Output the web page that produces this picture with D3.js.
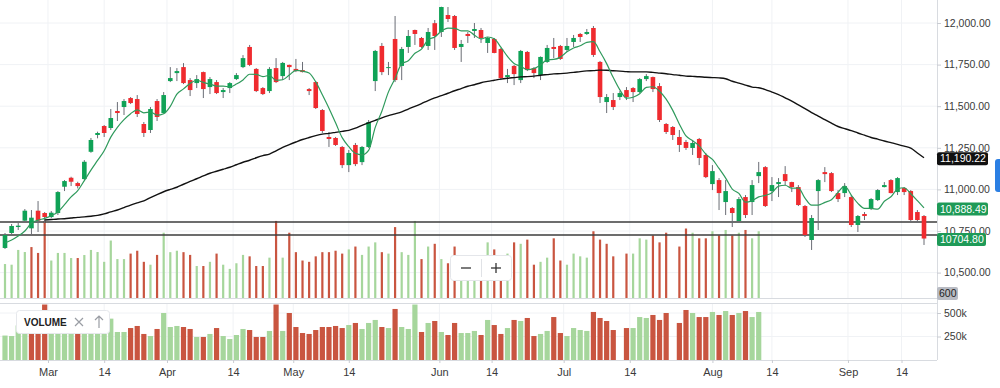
<!DOCTYPE html>
<meta charset="utf-8">
<style>
body { margin: 0; background: #fff; }
svg { display: block; font-family: "Liberation Sans", Arial, sans-serif; }
.axis text { fill: #3a3a3a; font-size: 10.5px; }
.axis line { stroke: #c9ccd2; }
</style>
<body>
<script src="https://d3js.org/d3.v7.min.js"></script>
<script>
// daily sessions, oldest first
var opens = [10648,10738,10774,10812,10766,10872,10858,10834,10858,11016,11070,11038,11062,11226,11327,11381,11369,11471,11495,11549,
  11543,11393,11357,11531,11459,11651,11699,11735,11657,11639,11705,11615,11645,11585,11609,11663,11735,11856,11724,11609,
  11591,11729,11681,11748,11724,11717,11603,11645,11477,11315,11309,11255,11146,11267,11164,11255,11651,11862,11729,11904,
  11742,11856,11958,11910,11862,11999,11946,12048,12042,11856,11934,11952,11958,11880,11904,11844,11675,11742,11657,11826,
  11729,11687,11766,11856,11862,11838,11886,11934,11934,11970,11766,11525,11537,11555,11597,11609,11585,11663,11675,11621,
  11393,11375,11315,11285,11249,11303,11207,11032,11056,10924,10888,10810,10954,10924,11080,11134,10990,11032,11092,11044,
  11014,10900,10696,10990,11104,11098,10978,10978,10954,10786,10852,10882,10936,11014,11056,10984,11008,10990,10864,10840];
var highs = [10738,10792,10798,10882,10876,10930,10864,10870,10990,11056,11076,11046,11176,11309,11347,11387,11483,11525,11543,11555,
  11567,11405,11495,11543,11585,11735,11729,11759,11669,11687,11708,11675,11657,11609,11645,11699,11807,11868,11729,11615,
  11735,11789,11766,11750,11784,11766,11609,11651,11483,11345,11315,11261,11237,11279,11261,11417,11838,11880,11766,12042,
  11856,11958,11960,11916,11970,12018,12098,12096,12048,11898,11946,12000,11970,11916,11910,11850,11724,11748,11838,11832,
  11735,11799,11868,11910,11868,11910,11928,11940,11964,11982,11772,11573,11579,11591,11615,11615,11669,11693,11678,11639,
  11399,11381,11357,11297,11297,11309,11219,11146,11068,11056,10894,10954,10966,11056,11165,11140,11074,11068,11140,11046,
  11026,10906,10846,11062,11134,11104,10996,11038,10966,10846,10864,10948,11002,11044,11062,11074,11014,10996,10876,10846];
var lows = [10642,10720,10756,10804,10726,10744,10798,10828,10846,10990,11020,11006,11056,11220,11307,11315,11357,11411,11447,11513,
  11435,11315,11339,11411,11457,11645,11651,11633,11561,11609,11549,11573,11573,11549,11579,11657,11729,11741,11585,11567,
  11579,11639,11657,11657,11705,11703,11567,11483,11339,11255,11261,11128,11104,11140,11146,11249,11591,11687,11687,11645,
  11657,11820,11868,11850,11838,11838,11916,12006,11838,11766,11880,11910,11880,11820,11818,11657,11639,11627,11639,11711,
  11669,11657,11760,11789,11778,11826,11856,11886,11928,11796,11519,11459,11477,11537,11537,11525,11579,11651,11585,11405,
  11333,11297,11225,11237,11207,11146,11068,10996,10876,10846,10774,10804,10828,10846,11038,10894,10930,10954,11026,10984,
  10900,10714,10636,10756,11044,10984,10924,10954,10774,10744,10816,10876,10930,11012,10976,10966,10966,10804,10798,10666];
var closes = [10726,10780,10782,10872,10830,10812,10834,10860,10984,11050,11046,11020,11166,11297,11339,11339,11429,11459,11531,11519,
  11453,11339,11483,11435,11567,11669,11711,11639,11597,11663,11603,11663,11579,11597,11639,11687,11789,11748,11591,11573,
  11724,11645,11760,11735,11711,11705,11591,11489,11351,11303,11267,11146,11219,11152,11255,11405,11832,11705,11735,11657,
  11844,11922,11934,11856,11946,11922,12096,12024,11850,11874,11922,11964,11910,11910,11820,11669,11687,11693,11832,11717,
  11699,11796,11850,11844,11784,11862,11910,11916,11946,11808,11555,11555,11495,11579,11555,11585,11663,11681,11603,11417,
  11345,11327,11267,11249,11279,11189,11074,11110,10978,10990,10858,10942,10846,11026,11104,10900,11026,11044,11050,11014,
  10906,10726,10828,11056,11092,10990,10942,11020,10786,10840,10840,10942,10996,11026,10978,11068,10984,10816,10816,10704.80];

// volume in thousands (null = no print), and its colour flag (1 = up)
var volumes = [260,255,368,352,390,345,590,287,345,345,306,306,329,368,352,277,440,298,298,340,
  362,277,255,330,500,351,362,351,330,245,245,277,340,255,223,266,330,319,245,245,
  309,590,309,500,351,287,277,319,351,351,362,340,372,394,330,394,426,351,340,543,
  351,330,590,298,394,415,298,266,394,287,287,309,266,426,372,277,340,426,415,447,
  255,277,309,457,287,255,340,319,309,511,447,415,319,null,340,340,457,447,479,426,
  500,null,394,532,500,457,457,511,479,521,479,500,521,457,511];
var volUp = [1,1,1,1,0,0,0,1,1,1,1,0,1,1,1,1,1,1,1,0,
  0,0,1,0,1,1,1,0,0,1,0,1,0,1,1,1,1,0,0,0,
  1,0,1,0,0,0,0,0,0,0,0,0,1,0,1,1,1,0,1,0,
  1,1,1,0,1,0,1,0,0,1,1,1,0,1,0,0,1,0,1,0,
  0,1,1,0,0,1,1,1,1,0,0,0,0,0,0,1,1,1,0,0,
  0,0,0,0,1,0,0,1,0,1,0,1,0,1,1];

// moving averages as plotted (fast = 5 session, slow = long)
var smaFast = [10678,10696,10720,10750,10798,10815,10826,10842,10864,10908,10955,10992,11053,11116,11174,11232,11314,11373,11419,11455,
  11478,11460,11465,11446,11455,11499,11573,11604,11637,11656,11643,11633,11621,11621,11616,11633,11658,11692,11691,11678,
  11685,11656,11659,11687,11715,11711,11700,11646,11569,11488,11400,11311,11257,11217,11208,11235,11373,11470,11586,11667,
  11755,11773,11818,11843,11900,11916,11951,11969,11968,11953,11953,11927,11904,11916,11905,11855,11799,11756,11740,11720,
  11726,11747,11779,11781,11795,11827,11850,11863,11884,11888,11827,11756,11672,11598,11548,11554,11575,11613,11617,11590,
  11542,11475,11392,11321,11293,11262,11212,11180,11126,11068,11002,10976,10923,10932,10955,10964,10980,11020,11025,11007,
  11008,10948,10905,10906,10922,10938,10982,11020,10966,10916,10886,10886,10881,10929,10956,11002,11010,10974,10932,10888.49];
var smaSlow = [null,null,null,null,null,null,10816,10819,10822,10824,10828,10832,10835,10839,10844,10853,10865,10876,10891,10906,
  10919,10931,10951,10969,10986,11000,11013,11031,11048,11064,11081,11097,11109,11121,11133,11148,11163,11175,11190,11203,
  11212,11232,11252,11269,11285,11300,11312,11323,11332,11337,11343,11349,11355,11368,11385,11400,11415,11430,11443,11454,
  11466,11483,11499,11516,11534,11550,11564,11578,11593,11606,11620,11629,11641,11649,11656,11663,11668,11672,11676,11678,
  11681,11686,11690,11694,11696,11699,11703,11708,11712,11714,11717,11716,11713,11711,11708,11706,11706,11706,11703,11699,
  11695,11690,11686,11681,11679,11677,11674,11672,11670,11665,11650,11639,11627,11615,11611,11600,11585,11570,11550,11530,
  11508,11486,11461,11441,11419,11398,11378,11365,11353,11339,11326,11312,11302,11291,11281,11271,11260,11248,11219,11190.22];

var levels = [10804, 10726];
var priceTicks = [12000, 11750, 11500, 11250, 11000, 10750, 10500];
var volTicks = [500, 250];
// date ticks, in session units
var dateTicks = [6.5, 15, 24.5, 34.5, 43.6, 52, 65.7, 73.6, 84.5, 94.5, 107, 116, 127.5, 135.6];
var dateLabels = ["Mar", "14", "Apr", "14", "May", "14", "Jun", "14", "Jul", "14", "Aug", "14", "Sep", "14"];

var width = 1000, height = 388;
var plotRight = 937, mainBottom = 298, volTop = 303, volBottom = 360;
var upCol = "#0fa256", downCol = "#ef2b2f";
var volUpCol = "#a6d69c", volDownCol = "#c95540";

var svg = d3.select("body").append("svg")
    .attr("width", width)
    .attr("height", height);

var x = d3.scaleLinear().domain([0, closes.length - 1]).range([5, 924]);
var y = d3.scaleLinear().domain([10500, 12000]).range([272.6, 23]);
var yv = d3.scaleLinear().domain([0, 500]).range([volBottom, 313]);
var yThin = d3.scaleLinear().domain([0, 500]).range([mainBottom, 232.7]);

svg.append("clipPath").attr("id", "mainclip")
  .append("rect").attr("x", 0).attr("y", 0).attr("width", plotRight).attr("height", mainBottom);

// grid
var grid = svg.append("g").attr("stroke", "#f0f2f5").attr("stroke-width", 1);
dateTicks.forEach(function(d) {
  grid.append("line").attr("x1", x(d)).attr("x2", x(d)).attr("y1", 0).attr("y2", mainBottom);
  grid.append("line").attr("x1", x(d)).attr("x2", x(d)).attr("y1", volTop).attr("y2", volBottom);
});
priceTicks.forEach(function(d) {
  grid.append("line").attr("x1", 0).attr("x2", plotRight).attr("y1", y(d)).attr("y2", y(d));
});
volTicks.forEach(function(d) {
  grid.append("line").attr("x1", 0).attr("x2", plotRight).attr("y1", yv(d)).attr("y2", yv(d));
});

// panel frames
var frame = svg.append("g").attr("stroke", "#d8dbe0").attr("stroke-width", 1);
frame.append("line").attr("x1", plotRight + 0.5).attr("x2", plotRight + 0.5).attr("y1", 0).attr("y2", volBottom);
frame.append("line").attr("x1", 0).attr("x2", plotRight).attr("y1", mainBottom + 0.5).attr("y2", mainBottom + 0.5);
frame.append("line").attr("x1", 0).attr("x2", plotRight).attr("y1", volTop + 0.5).attr("y2", volTop + 0.5);
frame.append("line").attr("x1", 0).attr("x2", plotRight).attr("y1", volBottom + 0.5).attr("y2", volBottom + 0.5);

var main = svg.append("g").attr("clip-path", "url(#mainclip)");

// volume overlay in the price pane
main.selectAll(".thin")
    .data(volumes.map(function(v, i) { return {i: i, v: v, up: volUp[i]}; }).filter(function(d) { return d.v != null; }))
  .enter().append("rect")
    .attr("x", function(d) { return x(d.i) - 1.1; })
    .attr("width", 2.2)
    .attr("y", function(d) { return yThin(d.v); })
    .attr("height", function(d) { return mainBottom - yThin(d.v); })
    .attr("fill", function(d) { return d.up ? volUpCol : volDownCol; });

// level lines
main.selectAll(".level")
    .data(levels)
  .enter().append("line")
    .attr("x1", 0).attr("x2", plotRight)
    .attr("y1", function(d) { return y(d); })
    .attr("y2", function(d) { return y(d); })
    .attr("stroke", "#3d3d3d").attr("stroke-width", 1.5);

// candles
var bars = closes.map(function(c, i) {
  return {i: i, o: opens[i], h: highs[i], l: lows[i], c: c};
});
var candle = main.selectAll(".candle").data(bars).enter().append("g");
candle.append("line")
    .attr("x1", function(d) { return x(d.i); })
    .attr("x2", function(d) { return x(d.i); })
    .attr("y1", function(d) { return y(d.h); })
    .attr("y2", function(d) { return y(d.l); })
    .attr("stroke", "#6a6d75").attr("stroke-width", 1);
candle.append("rect")
    .attr("x", function(d) { return x(d.i) - 2.3; })
    .attr("width", 4.6)
    .attr("y", function(d) { return y(Math.max(d.o, d.c)); })
    .attr("height", function(d) { return Math.max(1, Math.abs(y(d.o) - y(d.c))); })
    .attr("fill", function(d) { return d.c >= d.o ? upCol : downCol; });

// moving averages
var line = d3.line()
    .defined(function(d) { return d != null; })
    .x(function(d, i) { return x(i); })
    .y(function(d) { return y(d); })
    .curve(d3.curveMonotoneX);
main.append("path").datum(smaSlow)
    .attr("d", line).attr("fill", "none").attr("stroke", "#111").attr("stroke-width", 1.4);
main.append("path").datum(smaFast)
    .attr("d", line).attr("fill", "none").attr("stroke", "#2f9a5c").attr("stroke-width", 1.2);

// volume pane
svg.selectAll(".vol")
    .data(volumes.map(function(v, i) { return {i: i, v: v, up: volUp[i]}; }).filter(function(d) { return d.v != null; }))
  .enter().append("rect")
    .attr("x", function(d) { return x(d.i) - 2.6; })
    .attr("width", 5.2)
    .attr("y", function(d) { return yv(d.v); })
    .attr("height", function(d) { return volBottom - yv(d.v); })
    .attr("fill", function(d) { return d.up ? volUpCol : volDownCol; });

// axes
svg.append("g").attr("class", "axis")
    .attr("transform", "translate(" + plotRight + ",0)")
    .call(d3.axisRight(y).tickValues(priceTicks).tickFormat(d3.format(",.2f")).tickSize(4).tickPadding(3))
    .call(function(g) { g.select(".domain").remove(); });
svg.append("g").attr("class", "axis")
    .attr("transform", "translate(" + plotRight + ",0)")
    .call(d3.axisRight(yv).tickValues(volTicks).tickFormat(function(d) { return d + "k"; }).tickSize(4).tickPadding(3))
    .call(function(g) { g.select(".domain").remove(); });
svg.append("g").attr("class", "axis")
    .attr("transform", "translate(0," + volBottom + ")")
    .call(d3.axisBottom(x).tickValues(dateTicks).tickFormat(function(d, i) { return dateLabels[i]; }).tickSize(3).tickPadding(5))
    .call(function(g) { g.select(".domain").remove(); })
    .selectAll("text").style("font-size", "11px");

// last value labels
function tag(val, text, fill, color) {
  var g = svg.append("g").attr("transform", "translate(" + plotRight + "," + (y(val) + 1) + ")");
  g.append("rect").attr("x", 0).attr("y", -6.5).attr("width", text.length > 8 ? 51 : 49).attr("height", 13)
    .attr("rx", 2).attr("fill", fill);
  g.append("text").attr("x", 3).attr("y", 0).attr("dy", "0.35em")
    .attr("fill", color).style("font-size", "10.5px").text(text);
}
tag(smaSlow[smaSlow.length - 1], d3.format(",.2f")(smaSlow[smaSlow.length - 1]), "#111", "#fff");
tag(smaFast[smaFast.length - 1], d3.format(",.2f")(smaFast[smaFast.length - 1]), "#1e9a57", "#fff");
tag(closes[closes.length - 1], d3.format(".2f")(closes[closes.length - 1]), "#1e9a57", "#fff");

// scale badge
svg.append("rect").attr("x", plotRight).attr("y", 287).attr("width", 21).attr("height", 13).attr("rx", 2).attr("fill", "#b8bbc3");
svg.append("text").attr("x", plotRight + 2).attr("y", 293.5).attr("dy", "0.35em")
  .style("font-size", "10.5px").attr("fill", "#222").text("600");

// side tab
svg.append("rect").attr("x", 995).attr("y", 159).attr("width", 10).attr("height", 33).attr("rx", 3).attr("fill", "#2b7fe3");

// zoom buttons
var zb = svg.append("g");
zb.append("rect").attr("x", 450.5).attr("y", 255.5).attr("width", 61).attr("height", 25).attr("rx", 3)
  .attr("fill", "#fff").attr("stroke", "#e4e6ea");
zb.append("line").attr("x1", 481.5).attr("x2", 481.5).attr("y1", 259).attr("y2", 277).attr("stroke", "#e0e2e6");
zb.append("line").attr("x1", 461).attr("x2", 471).attr("y1", 268).attr("y2", 268).attr("stroke", "#333").attr("stroke-width", 1.3);
zb.append("line").attr("x1", 491).attr("x2", 501).attr("y1", 268).attr("y2", 268).attr("stroke", "#333").attr("stroke-width", 1.3);
zb.append("line").attr("x1", 496).attr("x2", 496).attr("y1", 263).attr("y2", 273).attr("stroke", "#333").attr("stroke-width", 1.3);

// volume legend
var lg = svg.append("g");
lg.append("rect").attr("x", 16.5).attr("y", 310.5).attr("width", 93).attr("height", 23).attr("rx", 3)
  .attr("fill", "#fff").attr("stroke", "#e6e8ec");
lg.append("text").attr("x", 24).attr("y", 322).attr("dy", "0.35em")
  .style("font-size", "10px").style("font-weight", "600").attr("fill", "#222").text("VOLUME");
lg.append("path").attr("d", "M75,318L83,326M83,318L75,326").attr("stroke", "#9a9da4").attr("stroke-width", 1.2);
lg.append("path").attr("d", "M99,316V328M95,320L99,316L103,320").attr("stroke", "#9a9da4").attr("stroke-width", 1.2).attr("fill", "none");
</script>
</body>
